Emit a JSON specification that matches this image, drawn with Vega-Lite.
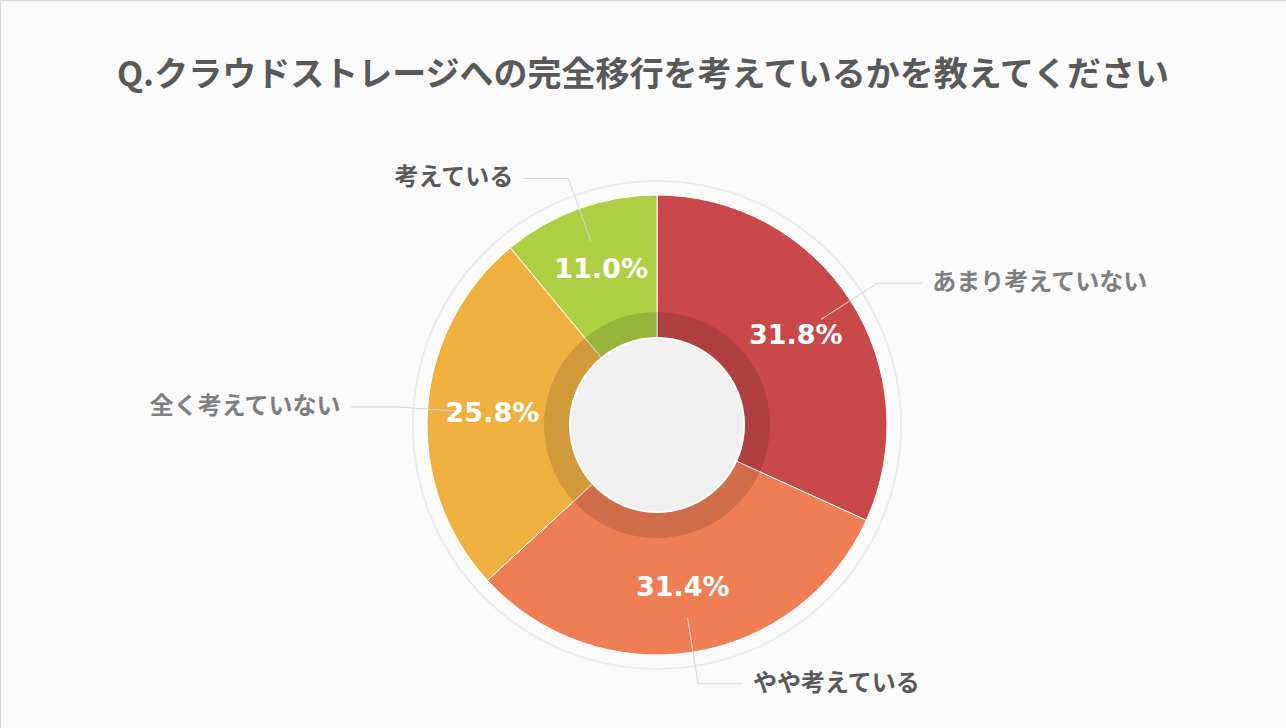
{
  "$schema": "https://vega.github.io/schema/vega-lite/v6.json",
  "width": 1286,
  "height": 728,
  "autosize": "none",
  "padding": 0,
  "background": "#FAFAFA",
  "config": {"view": {"stroke": "#D9D9D9", "strokeWidth": 1}, "font": "Noto Sans CJK JP"},
  "title": {
    "text": "Q.クラウドストレージへの完全移行を考えているかを教えてください",
    "font": "Noto Sans CJK JP",
    "fontSize": 34,
    "fontWeight": "bold",
    "color": "#595959",
    "anchor": "middle",
    "frame": "group",
    "offset": -93
  },
  "datasets": {
    "answers": [
      {"label": "あまり考えていない", "value": 31.8},
      {"label": "やや考えている", "value": 31.4},
      {"label": "全く考えていない", "value": 25.8},
      {"label": "考えている", "value": 11.0}
    ],
    "one": [{"k": 1}]
  },
  "layer": [
    {
      "data": {"name": "one"},
      "mark": {"type": "arc", "theta": 0, "theta2": 6.2832, "innerRadius": 243, "outerRadius": 245, "fill": "#EBEBEB"},
      "encoding": {
        "x": {"datum": 0, "type": "quantitative", "scale": {"domain": [-657, 629], "nice": false, "zero": false}, "axis": null},
        "y": {"datum": 0, "type": "quantitative", "scale": {"domain": [-303, 425], "nice": false, "zero": false}, "axis": null}
      }
    },
    {
      "data": {"name": "answers"},
      "transform": [
        {"window": [{"op": "sum", "field": "value", "as": "cum_end"}], "frame": [null, 0]},
        {"calculate": "datum.cum_end - datum.value", "as": "cum_start"},
        {"calculate": "(datum.cum_start + datum.value / 2) / 100 * 2 * PI", "as": "mid"},
        {"calculate": "sin(datum.mid)", "as": "sx"},
        {"calculate": "cos(datum.mid)", "as": "cy"},
        {"calculate": "165 * datum.sx", "as": "px"},
        {"calculate": "165 * datum.cy", "as": "py"},
        {"calculate": "195 * datum.sx", "as": "l1x"},
        {"calculate": "195 * datum.cy", "as": "l1y"},
        {"calculate": "262 * datum.sx", "as": "l2x"},
        {"calculate": "262 * datum.cy", "as": "l2y"},
        {"calculate": "datum.l2x + (datum.sx >= 0 ? 45 : -45)", "as": "l3x"},
        {"calculate": "datum.l3x + (datum.sx >= 0 ? 10 : -10)", "as": "tx"},
        {"calculate": "format(datum.value, '.1f') + '%'", "as": "pct"}
      ],
      "layer": [
        {
          "mark": {"type": "arc", "innerRadius": 87, "outerRadius": 230, "stroke": "#FFFFFF", "strokeWidth": 1},
          "encoding": {
            "x": {"datum": 0, "type": "quantitative"},
            "y": {"datum": 0, "type": "quantitative"},
            "theta": {"field": "cum_start", "type": "quantitative", "scale": {"domain": [0, 100]}, "stack": null},
            "theta2": {"field": "cum_end"},
            "color": {
              "field": "label",
              "type": "nominal",
              "scale": {
                "domain": ["あまり考えていない", "やや考えている", "全く考えていない", "考えている"],
                "range": ["#C9494A", "#EF7E55", "#F0B040", "#AECF44"]
              },
              "legend": null
            }
          }
        },
        {
          "mark": {"type": "arc", "innerRadius": 87, "outerRadius": 113, "fill": "#000000", "fillOpacity": 0.13, "strokeWidth": 0},
          "encoding": {
            "x": {"datum": 0, "type": "quantitative"},
            "y": {"datum": 0, "type": "quantitative"},
            "theta": {"field": "cum_start", "type": "quantitative", "scale": {"domain": [0, 100]}, "stack": null},
            "theta2": {"field": "cum_end"}
          }
        },
        {
          "mark": {"type": "rule", "color": "#D6D6D6", "strokeWidth": 1},
          "encoding": {
            "x": {"field": "l1x", "type": "quantitative"},
            "y": {"field": "l1y", "type": "quantitative"},
            "x2": {"field": "l2x"},
            "y2": {"field": "l2y"}
          }
        },
        {
          "mark": {"type": "rule", "color": "#D6D6D6", "strokeWidth": 1},
          "encoding": {
            "x": {"field": "l2x", "type": "quantitative"},
            "y": {"field": "l2y", "type": "quantitative"},
            "x2": {"field": "l3x"},
            "y2": {"field": "l2y"}
          }
        },
        {
          "mark": {"type": "text", "font": "DejaVu Sans", "fontSize": 27, "fontWeight": "bold", "align": "center", "baseline": "middle", "color": "#FFFFFF"},
          "encoding": {
            "x": {"field": "px", "type": "quantitative"},
            "y": {"field": "py", "type": "quantitative"},
            "text": {"field": "pct"}
          }
        },
        {
          "transform": [{"filter": "datum.sx >= 0"}],
          "mark": {"type": "text", "font": "Noto Sans CJK JP", "fontSize": 24, "fontWeight": "bold", "align": "left", "baseline": "middle"},
          "encoding": {
            "x": {"field": "tx", "type": "quantitative"},
            "y": {"field": "l2y", "type": "quantitative"},
            "text": {"field": "label"},
            "color": {
              "condition": {"test": "datum.label === '考えている' || datum.label === 'やや考えている'", "value": "#595959"},
              "value": "#7F7F7F"
            }
          }
        },
        {
          "transform": [{"filter": "datum.sx < 0"}],
          "mark": {"type": "text", "font": "Noto Sans CJK JP", "fontSize": 24, "fontWeight": "bold", "align": "right", "baseline": "middle"},
          "encoding": {
            "x": {"field": "tx", "type": "quantitative"},
            "y": {"field": "l2y", "type": "quantitative"},
            "text": {"field": "label"},
            "color": {
              "condition": {"test": "datum.label === '考えている' || datum.label === 'やや考えている'", "value": "#595959"},
              "value": "#7F7F7F"
            }
          }
        }
      ]
    },
    {
      "data": {"name": "one"},
      "mark": {"type": "arc", "theta": 0, "theta2": 6.2832, "innerRadius": 0, "outerRadius": 87, "fill": "#F0F0F0", "stroke": "#FFFFFF", "strokeWidth": 2},
      "encoding": {
        "x": {"datum": 0, "type": "quantitative"},
        "y": {"datum": 0, "type": "quantitative"}
      }
    }
  ]
}
